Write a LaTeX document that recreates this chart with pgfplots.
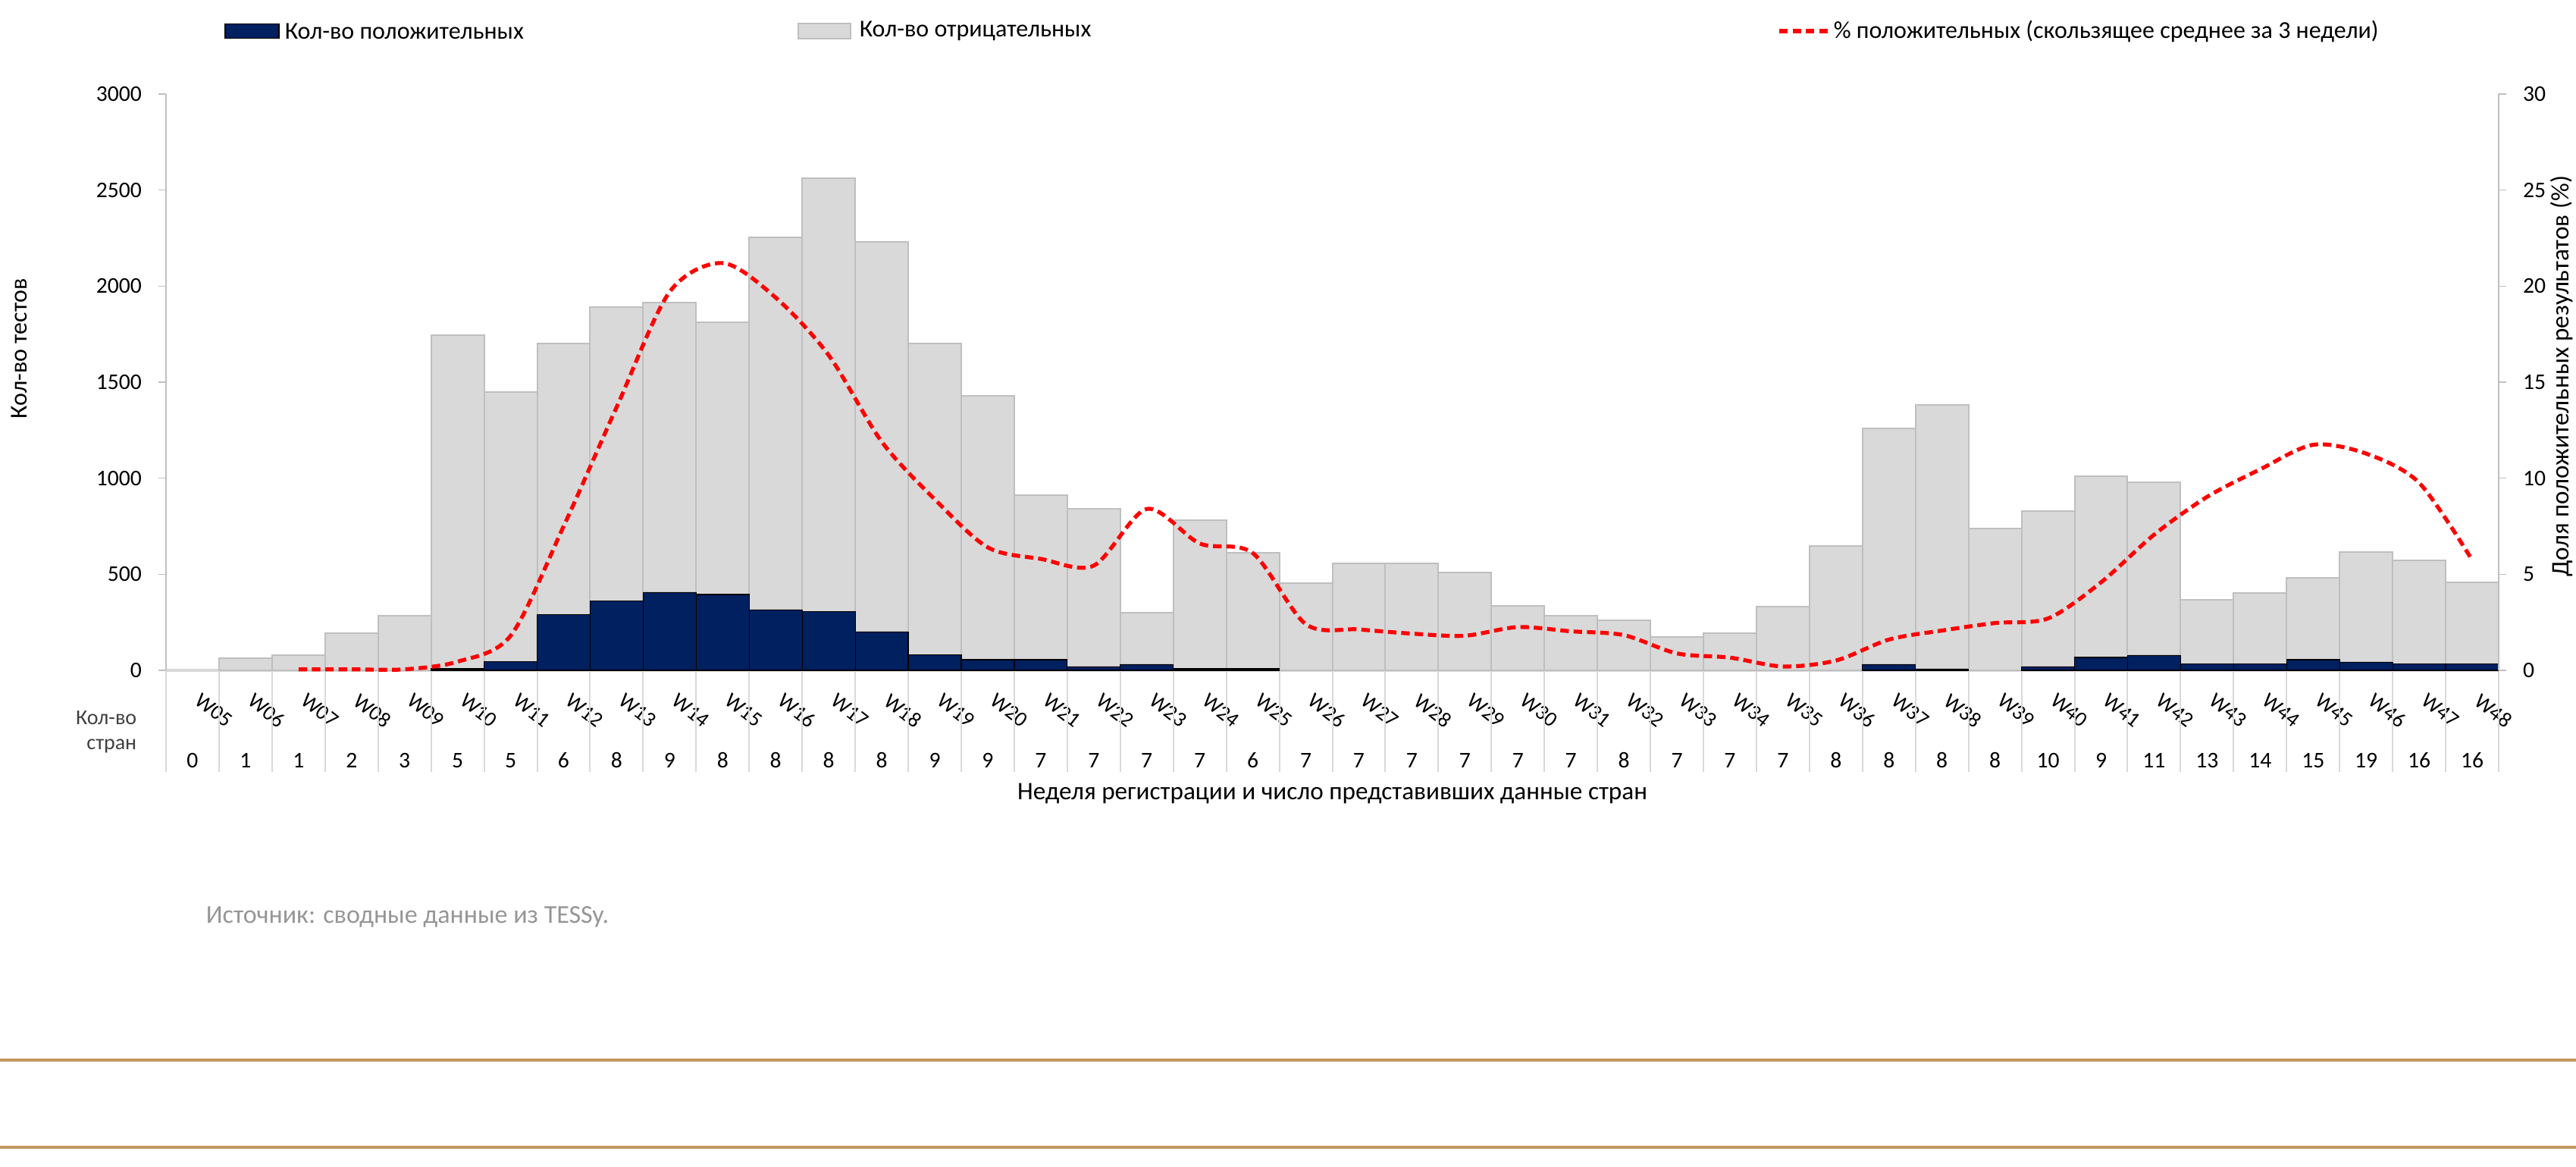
\documentclass[border=0pt]{standalone}
\usepackage{pgfplots}
\usepackage{pgfplotstable}
\pgfplotsset{compat=1.18}
\usepackage{fontspec}
\setmainfont{Carlito}
\definecolor{navy}{HTML}{002060}
\definecolor{lgrey}{HTML}{D9D9D9}
\definecolor{bgrey}{HTML}{BFBFBF}
\definecolor{gold}{HTML}{C4965E}
\definecolor{srcgrey}{HTML}{969696}

\pgfplotstableread{
x week pos neg cnt
0 W05 0 0 0
1 W06 0 62 1
2 W07 0 80 1
3 W08 0 195 2
4 W09 0 285 3
5 W10 8 1737 5
6 W11 45 1405 5
7 W12 290 1410 6
8 W13 360 1530 8
9 W14 405 1510 9
10 W15 395 1415 8
11 W16 315 1940 8
12 W17 305 2255 8
13 W18 200 2030 8
14 W19 80 1620 9
15 W20 55 1375 9
16 W21 55 855 7
17 W22 18 822 7
18 W23 30 268 7
19 W24 8 774 7
20 W25 8 605 6
21 W26 0 455 7
22 W27 0 558 7
23 W28 0 558 7
24 W29 0 510 7
25 W30 0 335 7
26 W31 0 283 7
27 W32 0 261 8
28 W33 0 172 7
29 W34 0 194 7
30 W35 0 333 7
31 W36 0 648 8
32 W37 30 1228 8
33 W38 6 1377 8
34 W39 0 740 8
35 W40 18 812 10
36 W41 67 943 9
37 W42 78 900 11
38 W43 33 334 13
39 W44 33 368 14
40 W45 55 426 15
41 W46 42 573 19
42 W47 33 539 16
43 W48 33 425 16
}\data

\pgfplotstableread{
x pct
2 0.05
3 0.05
4 0.05
5 0.45
6 1.8
7 7.5
8 13.7
9 19.7
10 21.2
11 19.4
12 16.4
13 11.9
14 8.9
15 6.4
16 5.8
17 5.45
18 8.4
19 6.6
20 6.1
21 2.4
22 2.13
23 1.91
24 1.8
25 2.25
26 2.03
27 1.83
28 0.88
29 0.66
30 0.2
31 0.51
32 1.6
33 2.07
34 2.46
35 2.7
36 4.58
37 7.06
38 9.03
39 10.46
40 11.74
41 11.28
42 9.76
43 5.74
}\pctdata

\begin{document}
\begin{tikzpicture}
\useasboundingbox (0,0) rectangle (849.5pt,384.75pt);

\begin{axis}[
  at={(54.75pt,163.75pt)}, anchor=south west,
  scale only axis, width=769.25pt, height=190pt,
  xmin=-0.5, xmax=43.5, ymin=0, ymax=3000,
  ybar stacked, bar width=1,
  axis y line*=left, axis x line*=bottom,
  ytick={0,500,...,3000},
  xtick={0,...,43},
  xticklabels from table={\data}{week},
  xtick align=inside, ytick align=outside,
  major tick length=2.5pt,
  x axis line style={draw=lgrey, line width=1pt},
  y axis line style={draw=bgrey, line width=0.4pt},
  ytick style={draw=bgrey, line width=0.4pt},
  xtick style={draw=none},
  tick label style={font=\fontsize{7.4}{8}\selectfont},
  xticklabel style={font=\fontsize{7}{8}\selectfont, inner sep=0pt, anchor=center, xshift=7pt, yshift=-13.25pt, rotate=-38},
  yticklabel style={xshift=-2pt},
  /pgf/number format/assume math mode=true,
  /pgf/number format/1000 sep={},
  ylabel={Кол-во тестов},
  every axis y label/.style={at={(axis description cs:-0.063,0.558)}, rotate=90, anchor=center, font=\fontsize{8}{9}\selectfont},
  xlabel={Неделя регистрации и число представивших данные стран},
  every axis x label/.style={at={(axis description cs:0.5,0)}, yshift=-40.75pt, anchor=center, font=\fontsize{8.3}{9}\selectfont},
  clip=false,
]
\addplot[fill=navy, draw=black, line width=0.3pt] table[x=x, y=pos]{\data};
\addplot[fill=lgrey, draw=bgrey, line width=0.5pt] table[x=x, y=neg]{\data};
\pgfplotsinvokeforeach{-0.5,0.5,...,43.5}{
  \draw[lgrey, line width=0.5pt] (axis cs:#1,0) -- ++(0pt,-33.5pt);
}
\end{axis}

\begin{axis}[
  at={(54.75pt,163.75pt)}, anchor=south west,
  scale only axis, width=769.25pt, height=190pt,
  xmin=-0.5, xmax=43.5, ymin=0, ymax=30,
  axis y line*=right, axis x line*=bottom,
  x axis line style={draw=none},
  xtick={0,...,43},
  xticklabels from table={\data}{cnt},
  xtick style={draw=none},
  xtick align=inside, ytick align=outside,
  major tick length=2.5pt,
  ytick={0,5,...,30},
  y axis line style={draw=bgrey, line width=0.4pt},
  ytick style={draw=bgrey, line width=0.4pt},
  tick label style={font=\fontsize{7.4}{8}\selectfont},
  xticklabel style={inner sep=0pt, anchor=center, yshift=-29.75pt},
  yticklabel style={xshift=2pt},
  /pgf/number format/assume math mode=true,
  ylabel={Доля положительных результатов (\%)},
  every axis y label/.style={at={(axis description cs:1.027,0.51)}, rotate=90, anchor=center, font=\fontsize{8.3}{9}\selectfont},
  clip=false,
]
\addplot[red, line width=1.3pt, dash pattern=on 2.8pt off 1.6pt, smooth] table[x=x, y=pct]{\pctdata};
\end{axis}

% legend
\draw[black, line width=0.4pt, fill=navy] (74.25pt,372.1pt) rectangle (92pt,376.9pt);
\node[anchor=west, inner sep=0pt, font=\fontsize{8}{9}\selectfont] at (93.75pt,374.5pt) {Кол-во положительных};
\draw[bgrey, line width=0.5pt, fill=lgrey] (263.25pt,372.1pt) rectangle (280.5pt,376.9pt);
\node[anchor=west, inner sep=0pt, font=\fontsize{8}{9}\selectfont] at (283.25pt,374.5pt) {Кол-во отрицательных};
\draw[red, line width=1.3pt, dash pattern=on 2.8pt off 1.6pt] (586.75pt,374.5pt) -- (603pt,374.5pt);
\node[anchor=west, inner sep=0pt, font=\fontsize{8}{9}\selectfont] at (604.5pt,374.5pt) {\% положительных (скользящее среднее за 3 недели)};

% country row label
\node[anchor=east, align=right, inner sep=0pt, text=black!75, font=\fontsize{7}{8.25}\selectfont] at (45.25pt,143.4pt) {Кол-во\\стран};

% source
\node[anchor=west, inner sep=0pt, text=srcgrey, font=\fontsize{8.5}{10}\selectfont] at (67.75pt,82.5pt) {Источник: сводные данные из TESSy.};

% decorative rules
\draw[gold, line width=0.8pt] (0,35.25pt) -- (849.5pt,35.25pt);
\draw[gold, line width=0.8pt] (0,6.5pt) -- (849.5pt,6.5pt);
\end{tikzpicture}
\end{document}
